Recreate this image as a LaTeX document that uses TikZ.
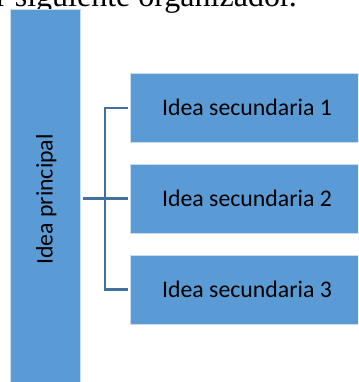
\documentclass[tikz,border=0pt]{standalone}
\usepackage{fontspec}
\setmainfont{Carlito}
\newfontfamily\serifpage{Liberation Serif}
\definecolor{boxblue}{RGB}{91,155,213}
\definecolor{edgeblue}{RGB}{200,220,240}
\definecolor{linkblue}{RGB}{65,113,156}
\begin{document}
\begin{tikzpicture}[x=1pt,y=-1pt,
  ideabox/.style={fill=boxblue,draw=edgeblue,line width=0.7pt,inner sep=0pt,
    font=\fontsize{23.8}{28}\selectfont,text height=15.3pt,text depth=0pt},
  link/.style={draw=linkblue,line width=2.6pt}]
\useasboundingbox (0,0) rectangle (358,382);
\clip (0,0) rectangle (358,382);
\node[anchor=base west,inner sep=0pt,font=\serifpage\fontsize{32}{36}\selectfont] (top) at (-4,6.5) {r siguiente organizador.};
\node[ideabox,minimum width=70pt,minimum height=380pt] (main) at (45,199.5) {};
\node[rotate=90,inner sep=0pt,font=\fontsize{23.8}{28}\selectfont,text height=15.3pt,text depth=0pt] (maintext) at (main.center) {Idea principal};
\node[ideabox,minimum width=234pt,minimum height=69pt] (s1) at (247,108) {Idea secundaria 1};
\node[ideabox,minimum width=234pt,minimum height=69pt] (s2) at (247,198.5) {Idea secundaria 2};
\node[ideabox,minimum width=234pt,minimum height=69pt] (s3) at (247,289.5) {Idea secundaria 3};
\coordinate (j) at (105,198.5);
\draw[link] ([xshift=3pt]main.east |- j) -- ([xshift=-2pt]s2.west);
\draw[link] ([xshift=-2pt]s1.west) -| (j) |- ([xshift=-2pt]s3.west);
\end{tikzpicture}
\end{document}
